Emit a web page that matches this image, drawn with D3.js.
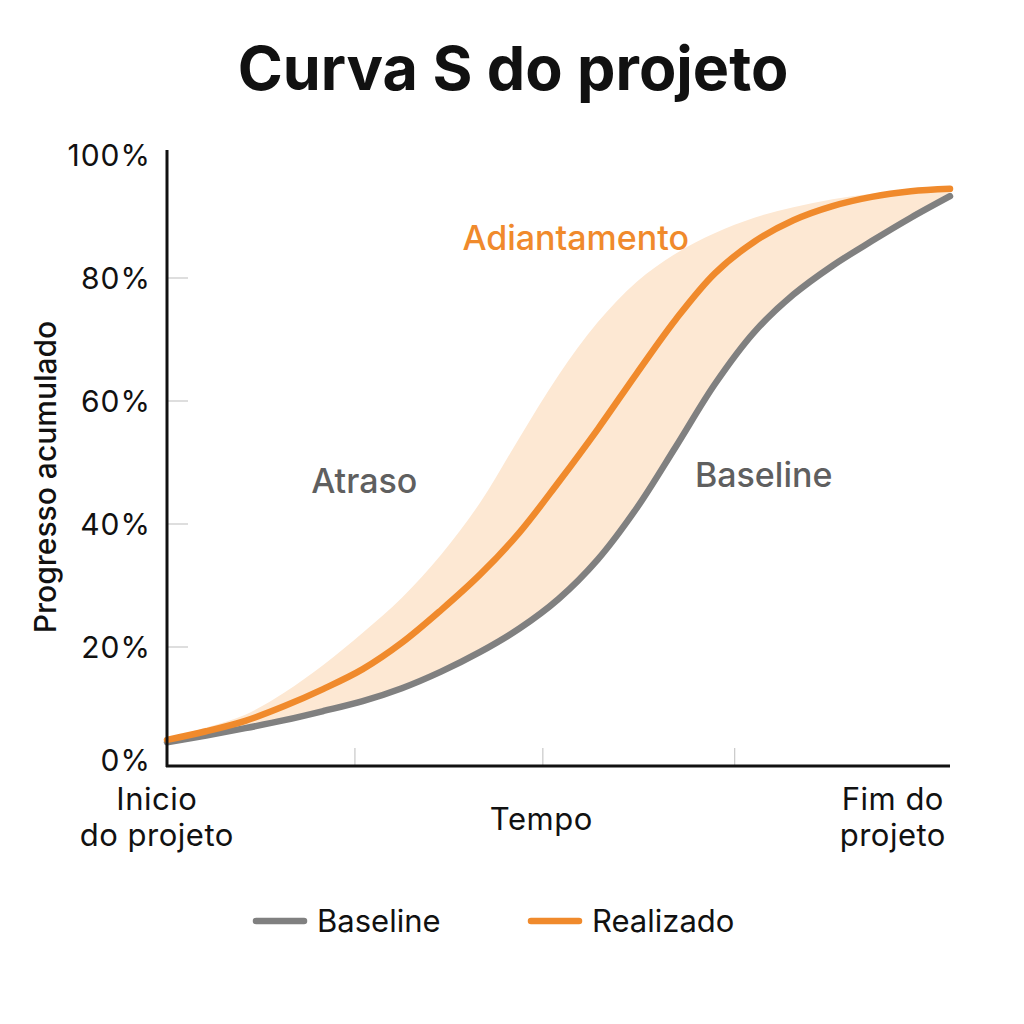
<!DOCTYPE html>
<html>
<head>
<meta charset="utf-8">
<script src="https://cdn.jsdelivr.net/npm/d3@7"></script>
<style>
  body { margin: 0; background: #fff; }
  text { font-family: Inter, "Noto Sans", sans-serif; }
</style>
</head>
<body>
<div id="chart"></div>
<script>
// time axis runs 0..100 (% of project duration)
const timePoints = [0, 5, 10, 15, 20, 25, 30, 35, 40, 45, 50, 55, 60, 65, 70, 75, 80, 85, 90, 95, 100]
const baseline  = [4.5, 5.6, 6.8, 8.1, 9.6, 11.2, 13.3, 16.0, 19.2, 23.0, 27.8, 34.2, 42.6, 52.6, 62.8, 71.2, 77.3, 82.0, 86.0, 89.8, 93.3]
const realizado = [4.9, 6.3, 8.0, 10.4, 13.2, 16.4, 20.7, 26.0, 31.8, 38.6, 46.8, 55.4, 64.5, 73.3, 80.8, 85.9, 89.4, 91.7, 93.2, 94.1, 94.5]
const bandTop   = [5.2, 6.9, 9.0, 12.6, 17.1, 22.3, 28.0, 35.0, 43.5, 54.0, 64.2, 72.8, 79.4, 84.0, 87.3, 89.8, 91.5, 92.8, 93.7, 94.3, 94.7]

const yTicks = [0, 20, 40, 60, 80, 100]
const xTicks = [24, 48, 72.5]
const xLabels = [
    {t: -1.3, lines: ["Inicio", "do projeto"]},
    {t: 47.8, lines: ["Tempo"]},
    {t: 92.7, lines: ["Fim do", "projeto"]}
]
const notes = [
    {text: "Adiantamento", t: 52.2, v: 86.5, color: "#f08a2c"},
    {text: "Atraso", t: 25.2, v: 47, color: "#5f5f5f"},
    {text: "Baseline", t: 76.2, v: 48, color: "#5f5f5f"}
]
const legendItems = [
    {name: "Baseline", color: "#808080", x: 256},
    {name: "Realizado", color: "#f08a2c", x: 531}
]

const W = 1024, H = 1024
const svg = d3.select("#chart").append("svg")
    .attr("width", W).attr("height", H)

const x = d3.scaleLinear().domain([0, 100]).range([167, 950])
const y = d3.scaleLinear().domain([0, 100]).range([770, 155])

const rows = timePoints.map((t, i) => ({t, b: baseline[i], r: realizado[i], top: bandTop[i]}))
const curve = d3.curveCatmullRom.alpha(0.5)

// title
svg.append("text")
    .attr("x", 513).attr("y", 90)
    .attr("text-anchor", "middle")
    .style("font-size", "61px").style("font-weight", 700)
    .style("fill", "#111")
    .text("Curva S do projeto")

// shaded band between baseline and upper limit
const band = d3.area()
    .x(d => x(d.t))
    .y0(d => y(d.b))
    .y1(d => y(d.top))
    .curve(curve)
svg.append("path").datum(rows)
    .attr("d", band)
    .attr("fill", "#fde8d3")

// light tick marks
svg.selectAll("line.ytick").data(yTicks.filter(v => v > 0 && v < 100))
    .enter().append("line")
    .attr("x1", 167).attr("x2", 188)
    .attr("y1", d => y(d)).attr("y2", d => y(d))
    .attr("stroke", "#c8c8c8").attr("stroke-width", 1.2)
svg.selectAll("line.xtick").data(xTicks)
    .enter().append("line")
    .attr("x1", d => x(d)).attr("x2", d => x(d))
    .attr("y1", 766).attr("y2", 748)
    .attr("stroke", "#c8c8c8").attr("stroke-width", 1.2)

// lines
const line = key => d3.line()
    .x(d => x(d.t))
    .y(d => y(d[key]))
    .curve(curve)

svg.append("path").datum(rows)
    .attr("d", line("b"))
    .attr("fill", "none")
    .attr("stroke", "#808080").attr("stroke-width", 6.5)
    .attr("stroke-linecap", "round")
svg.append("path").datum(rows)
    .attr("d", line("r"))
    .attr("fill", "none")
    .attr("stroke", "#f08a2c").attr("stroke-width", 6.5)
    .attr("stroke-linecap", "round")

// axes
svg.append("line")
    .attr("x1", 167).attr("x2", 167).attr("y1", 150).attr("y2", 767)
    .attr("stroke", "#111").attr("stroke-width", 3)
svg.append("line")
    .attr("x1", 166).attr("x2", 950).attr("y1", 766).attr("y2", 766)
    .attr("stroke", "#111").attr("stroke-width", 3)

// y tick labels
svg.selectAll("text.ylab").data(yTicks)
    .enter().append("text")
    .attr("x", 151)
    .attr("y", d => Math.min(y(d), 760))
    .attr("dy", "0.35em")
    .attr("text-anchor", "end")
    .style("font-size", "30px")
    .style("letter-spacing", "1px")
    .style("fill", "#111")
    .text(d => d + "%")

// y axis title
svg.append("text")
    .attr("transform", "translate(45,477) rotate(-90)")
    .attr("text-anchor", "middle")
    .attr("dy", "0.35em")
    .style("font-size", "30px").style("font-weight", 500)
    .style("fill", "#111")
    .text("Progresso acumulado")

// x labels
const xl = svg.selectAll("text.xlab").data(xLabels)
    .enter().append("text")
    .attr("text-anchor", "middle")
    .style("font-size", "31px")
    .style("letter-spacing", "0.5px")
    .style("fill", "#111")
xl.selectAll("tspan").data(d => d.lines.map((l, i) => ({l, i, d, n: d.lines.length})))
    .enter().append("tspan")
    .attr("x", d => x(d.d.t))
    .attr("y", d => d.n === 1 ? 830 : 810 + d.i * 36)
    .text(d => d.l)

// annotations
svg.selectAll("text.note").data(notes)
    .enter().append("text")
    .attr("x", d => x(d.t)).attr("y", d => y(d.v))
    .attr("dy", "0.35em")
    .attr("text-anchor", "middle")
    .style("font-size", "34px").style("font-weight", 500)
    .style("fill", d => d.color)
    .text(d => d.text)

// legend
const lg = svg.selectAll("g.legend").data(legendItems)
    .enter().append("g")
    .attr("transform", d => `translate(${d.x},921)`)
lg.append("line")
    .attr("x1", 0).attr("x2", 48)
    .attr("stroke", d => d.color).attr("stroke-width", 6.5)
    .attr("stroke-linecap", "round")
lg.append("text")
    .attr("x", 61).attr("dy", "0.35em")
    .style("font-size", "31px")
    .style("fill", "#111")
    .text(d => d.name)
</script>
</body>
</html>
